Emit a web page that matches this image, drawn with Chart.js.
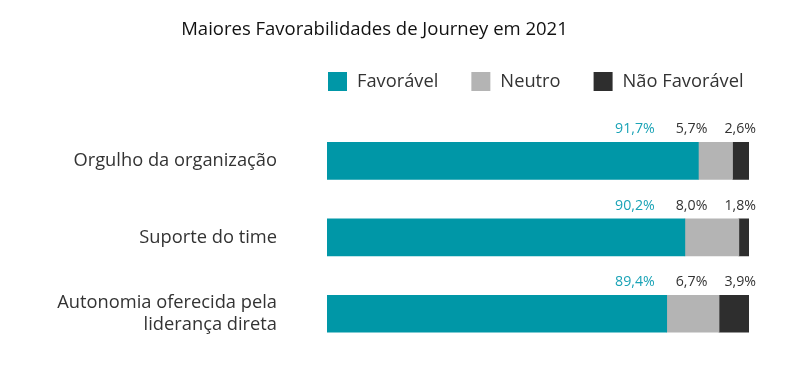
<!DOCTYPE html>
<html>
<head>
<meta charset="utf-8">
<script src="https://cdn.jsdelivr.net/npm/chart.js@4"></script>
<style>
  body { margin: 0; background: #fff; }
  #wrap { width: 794px; height: 384px; position: relative; }
</style>
</head>
<body>
<div id="wrap"><canvas id="my-chart"></canvas></div>
<script>
const categories = [
  'Orgulho da organização',
  'Suporte do time',
  ['Autonomia oferecida pela', 'liderança direta']
];
const seriesNames = ['Favorável', 'Neutro', 'Não Favorável'];
// bar lengths as drawn in the picture
const favoravel = [88.0, 84.8, 80.5];
const neutro = [8.1, 12.8, 12.4];
const naoFavoravel = [3.9, 2.4, 7.1];
// values printed above the bars
const favoravelText = ['91,7%', '90,2%', '89,4%'];
const neutroText = ['5,7%', '8,0%', '6,7%'];
const naoFavoravelText = ['2,6%', '1,8%', '3,9%'];

const colors = ['#0097a7', '#b4b4b4', '#2e2e2e'];
const textColors = ['#1aa3b6', '#333333', '#333333'];
const FONT = '"Open Sans", Lato, sans-serif';

// legend drawn at left edge of chart area
const legendPlugin = {
  id: 'leftLegend',
  afterDraw(chart) {
    const { ctx, chartArea } = chart;
    let x = chartArea.left + 1;
    const y = 81.5;
    ctx.save();
    ctx.font = '18.3px ' + FONT;
    ctx.textBaseline = 'middle';
    ctx.textAlign = 'left';
    chart.data.datasets.forEach((ds) => {
      ctx.fillStyle = ds.backgroundColor;
      ctx.fillRect(x, y - 9.5, 19, 19);
      ctx.fillStyle = '#333';
      ctx.fillText(ds.label, x + 29, y);
      x += 29 + ctx.measureText(ds.label).width + 33;
    });
    ctx.restore();
  }
};

// percent labels above each bar, chained from the right
const valuePlugin = {
  id: 'valueLabels',
  afterDatasetsDraw(chart) {
    const { ctx } = chart;
    const texts = [favoravelText, neutroText, naoFavoravelText];
    ctx.save();
    ctx.font = '14.2px ' + FONT;
    ctx.textBaseline = 'middle';
    ctx.textAlign = 'right';
    categories.forEach((c, i) => {
      const last = chart.getDatasetMeta(2).data[i];
      const top = last.y - last.height / 2;
      let right = last.x + 7;
      for (let d = 2; d >= 0; d--) {
        const t = texts[d][i];
        ctx.fillStyle = textColors[d];
        ctx.fillText(t, right, top - 13);
        right -= ctx.measureText(t).width + (d === 2 ? 17 : 21);
      }
    });
    ctx.restore();
  }
};

const ctx = document.querySelector('#my-chart').getContext('2d');
const chart = new Chart(ctx, {
  type: 'bar',
  data: {
    labels: categories,
    datasets: [
      { label: seriesNames[0], data: favoravel, backgroundColor: colors[0] },
      { label: seriesNames[1], data: neutro, backgroundColor: colors[1] },
      { label: seriesNames[2], data: naoFavoravel, backgroundColor: colors[2] }
    ]
  },
  options: {
    indexAxis: 'y',
    responsive: true,
    maintainAspectRatio: false,
    animation: false,
    layout: { padding: { left: 0, right: 45, top: 0, bottom: 32 } },
    datasets: { bar: { barThickness: 37, borderWidth: 0 } },
    scales: {
      x: { stacked: true, min: 0, max: 100, display: false },
      y: {
        stacked: true,
        grid: { display: false, drawTicks: false },
        border: { display: false },
        ticks: {
          padding: 50,
          color: '#333',
          font: { family: FONT, size: 18.3, lineHeight: 1.2 }
        },
        afterFit(scale) {
          scale.width = 327;
          scale.paddingTop = 0;
          scale.paddingBottom = 0;
        }
      }
    },
    plugins: {
      legend: { display: false },
      tooltip: { enabled: false },
      title: {
        display: true,
        text: 'Maiores Favorabilidades de Journey em 2021',
        color: '#111',
        font: { family: FONT, size: 18.5, weight: 'normal', lineHeight: 1.2 },
        padding: { top: 19, bottom: 81.5 }
      }
    }
  },
  plugins: [legendPlugin, valuePlugin]
});
</script>
</body>
</html>
